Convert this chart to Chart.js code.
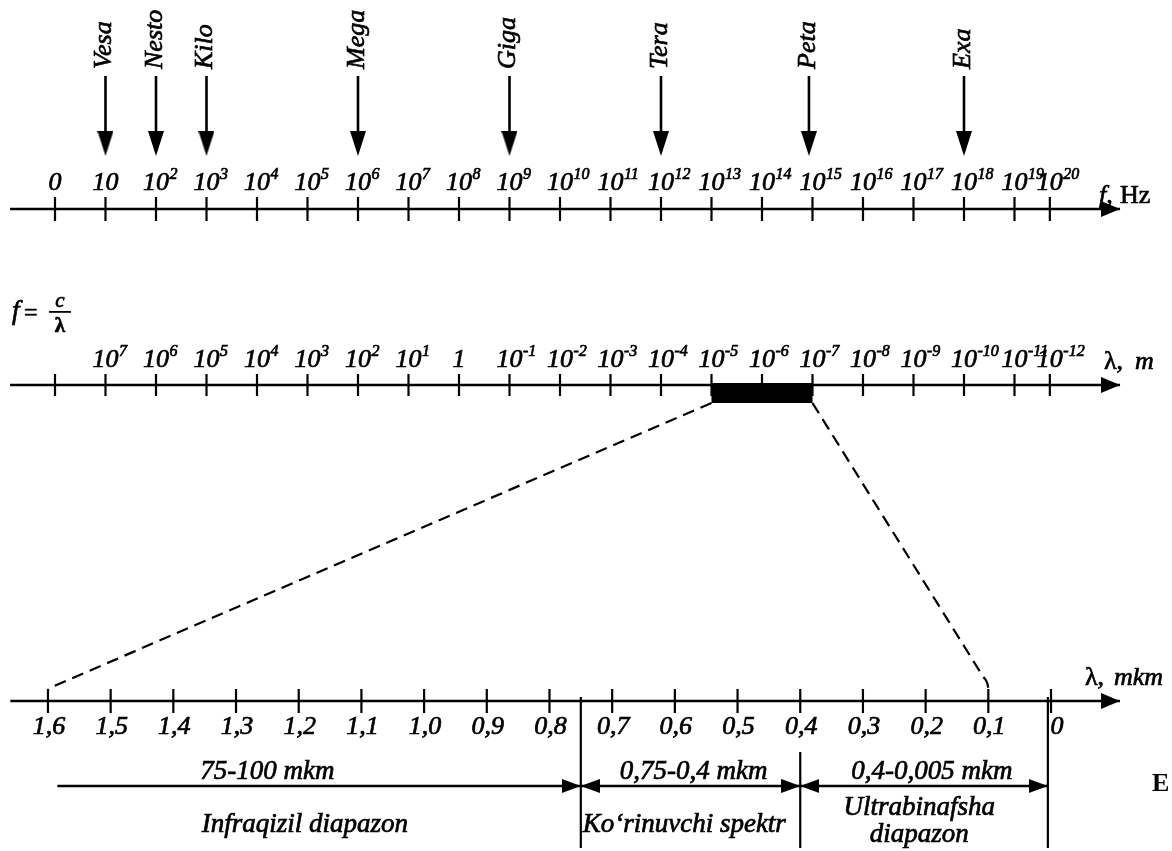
<!DOCTYPE html>
<html>
<head>
<meta charset="utf-8">
<script src="https://cdn.jsdelivr.net/npm/chart.js@4.4.1/dist/chart.umd.min.js"></script>
<style>
  html, body { margin: 0; padding: 0; background: #fff; }
  #wrap { width: 1172px; height: 851px; }
</style>
</head>
<body>
<div id="wrap"><canvas id="myChart" width="1172" height="851"></canvas></div>
<script>
// Frequency scale (top), one tick per decade
var freqLabels = ['0', '10', '10^2', '10^3', '10^4', '10^5', '10^6', '10^7', '10^8', '10^9', '10^10',
  '10^11', '10^12', '10^13', '10^14', '10^15', '10^16', '10^17', '10^18', '10^19', '10^20'];
// Wavelength scale (middle), same tick places
var waveLabels = ['', '10^7', '10^6', '10^5', '10^4', '10^3', '10^2', '10^1', '1', '10^-1', '10^-2',
  '10^-3', '10^-4', '10^-5', '10^-6', '10^-7', '10^-8', '10^-9', '10^-10', '10^-11', '10^-12'];
var decadePos = [0, 1, 2, 3, 4, 5, 6, 7, 8, 9, 10, 11, 12, 13, 14, 15, 16, 17, 18, 19, 19.7];

// SI prefixes and the decade they point to
var prefixNames = ['Vesa', 'Nesto', 'Kilo', 'Mega', 'Giga', 'Tera', 'Peta', 'Exa'];
var prefixPos = [1, 2, 3, 6, 9, 12, 14.93, 18];

// Optical band marked on the wavelength scale (10^-5 .. 10^-7 m)
var bandFrom = 13, bandTo = 15;

// Zoomed scale in mkm (bottom)
var mkmTicks = [1.6, 1.5, 1.4, 1.3, 1.2, 1.1, 1.0, 0.9, 0.8, 0.7, 0.6, 0.5, 0.4, 0.3, 0.2, 0.1, 0];
var mkmLabels = ['1,6', '1,5', '1,4', '1,3', '1,2', '1,1', '1,0', '0,9', '0,8', '0,7', '0,6', '0,5',
  '0,4', '0,3', '0,2', '0,1', '0'];
var connectTo = [1.6, 0.1];

// Ranges under the mkm scale
var rangeStart = [1.585, 0.75, 0.4];
var rangeEnd = [0.75, 0.4, 0.005];
var rangeBothHeads = [false, true, true];
var rangeText = ['75-100 mkm', '0,75-0,4 mkm', '0,4-0,005 mkm'];
var rangeNames = [['Infraqizil diapazon'], ['Ko\u2018rinuvchi spektr'], ['Ultrabinafsha', 'diapazon']];
var rangeTextAt = [1.25, 0.57, 0.19];
var rangeNameAt = [1.19, 0.585, 0.21];

// rows of the drawing (y scale runs top-down in pixels)
var Y_PREFIX_TEXT = 69, Y_SHAFT_TOP = 76, Y_HEAD_TIP = 156;
var Y_FREQ_LABEL = 183, Y_FREQ_AXIS = 209;
var Y_WAVE_LABEL = 360, Y_WAVE_AXIS = 385, Y_BAND = 393, Y_BAND_BOTTOM = 403;
var Y_MKM_AXIS = 701, Y_MKM_LABEL = 727, Y_RANGE_TEXT = 772, Y_RANGE_ARROW = 786, Y_RANGE_NAME = 825;
var Y_BOTTOM = 848;

var FONT = '"Liberation Serif", "Times New Roman", serif';
var black = '#000';

// arrowhead picture, tip in the middle so that a point sits on the tip
function makeHead(len, wid) {
  var c = document.createElement('canvas');
  c.width = len * 2;
  c.height = wid;
  var g = c.getContext('2d');
  g.fillStyle = black;
  g.beginPath();
  g.moveTo(0, 0);
  g.lineTo(len, wid / 2);
  g.lineTo(0, wid);
  g.closePath();
  g.fill();
  return c;
}
var axisHead = makeHead(19, 16);
var prefixHead = makeHead(25, 16);
var rangeHead = makeHead(19, 14);

function pts(xs, y) {
  return xs.map(function(v) { return {x: v, y: y}; });
}
function vsegs(xs, y0, y1) {
  var out = [];
  xs.forEach(function(v) {
    out.push({x: v, y: y0}, {x: v, y: y1}, {x: v, y: null});
  });
  return out;
}

var datasets = [];
function addLine(axisId, data, width, extra) {
  var d = {
    xAxisID: axisId, yAxisID: 'y', data: data,
    borderColor: black, backgroundColor: black,
    borderWidth: width, pointRadius: 0, spanGaps: false, tension: 0
  };
  for (var k in extra) d[k] = extra[k];
  datasets.push(d);
}
function addTicks(axisId, xs, y, r) {
  datasets.push({
    xAxisID: axisId, yAxisID: 'y', data: pts(xs, y), showLine: false,
    pointStyle: 'line', pointRotation: 90, pointRadius: r,
    pointBorderWidth: 2.2, pointBorderColor: black
  });
}

// top: frequency axis
addLine('x', [{x: -0.89, y: Y_FREQ_AXIS}, {x: 21.09, y: Y_FREQ_AXIS}], 2.6,
  {pointStyle: axisHead, pointRadius: [0, 9]});
addTicks('x', decadePos, Y_FREQ_AXIS, 12);
addLine('x', vsegs(prefixPos, Y_SHAFT_TOP, Y_HEAD_TIP - 12), 2.6);
addLine('x', pts(prefixPos, Y_HEAD_TIP), 0,
  {showLine: false, pointStyle: prefixHead, pointRotation: 90, pointRadius: 9});

// middle: wavelength axis
addLine('x', [{x: -0.89, y: Y_WAVE_AXIS}, {x: 21.09, y: Y_WAVE_AXIS}], 2.6,
  {pointStyle: axisHead, pointRadius: [0, 9]});
addTicks('x', decadePos, Y_WAVE_AXIS, 11);
addLine('x', [{x: bandFrom, y: Y_BAND}, {x: bandTo, y: Y_BAND}], 20, {borderCapStyle: 'butt'});

// bottom: mkm axis
addLine('xw', [{x: 1.66, y: Y_MKM_AXIS}, {x: -0.11, y: Y_MKM_AXIS}], 2.6,
  {pointStyle: axisHead, pointRadius: [0, 9]});
addTicks('xw', mkmTicks, Y_MKM_AXIS, 12);
addLine('xw', vsegs([rangeEnd[0], rangeEnd[2]], Y_MKM_AXIS - 4, Y_BOTTOM)
  .concat(vsegs([rangeEnd[1]], 752, Y_BOTTOM)), 2.2);
for (var i = 0; i < rangeStart.length; i++) {
  addLine('xw', [{x: rangeStart[i], y: Y_RANGE_ARROW}, {x: rangeEnd[i], y: Y_RANGE_ARROW}], 2.6, {
    pointStyle: rangeHead,
    pointRotation: [180, 0],
    pointRadius: [rangeBothHeads[i] ? 9 : 0, 9]
  });
}

// scanned print is heavy, so text is filled and lightly stroked
function ink(ctx, s, px, py) {
  ctx.fillText(s, px, py);
  ctx.strokeText(s, px, py);
}

function drawPow(ctx, label, cx, cy) {
  if (!label) return;
  var parts = label.split('^');
  ctx.font = 'italic 26px ' + FONT;
  var bw = ctx.measureText(parts[0]).width;
  var x0 = cx - bw / 2;
  ctx.textAlign = 'left';
  ctx.textBaseline = 'middle';
  ink(ctx, parts[0], x0, cy);
  if (parts[1]) {
    ctx.font = 'italic 16px ' + FONT;
    ink(ctx, parts[1], x0 + bw + 0.5, cy - 8);
  }
}

var extras = {
  id: 'extras',
  beforeDraw: function(chart) {
    var ctx = chart.ctx;
    ctx.save();
    ctx.fillStyle = '#fff';
    ctx.fillRect(0, 0, chart.width, chart.height);
    ctx.restore();
  },
  beforeDatasetsDraw: function(chart) {
    // dashed zoom lines from the optical band down to the mkm scale
    var ctx = chart.ctx, x = chart.scales.x, xw = chart.scales.xw;
    var lx = xw.getPixelForValue(connectTo[0]), rx = xw.getPixelForValue(connectTo[1]);
    ctx.save();
    ctx.strokeStyle = black;
    ctx.lineWidth = 2.2;
    ctx.setLineDash([12, 7]);
    ctx.beginPath();
    ctx.moveTo(x.getPixelForValue(bandFrom), Y_BAND_BOTTOM);
    ctx.lineTo(lx + 6, Y_MKM_AXIS - 15);
    ctx.lineTo(lx, Y_MKM_AXIS - 11);
    ctx.stroke();
    ctx.beginPath();
    ctx.moveTo(x.getPixelForValue(bandTo), Y_BAND_BOTTOM);
    ctx.lineTo(rx - 5, Y_MKM_AXIS - 24);
    ctx.quadraticCurveTo(rx, Y_MKM_AXIS - 19, rx, Y_MKM_AXIS - 11);
    ctx.stroke();
    ctx.restore();
  },
  afterDatasetsDraw: function(chart) {
    var ctx = chart.ctx, x = chart.scales.x, xw = chart.scales.xw;
    var i, j;
    ctx.save();
    ctx.fillStyle = black;
    ctx.strokeStyle = black;
    ctx.lineWidth = 0.7;

    // prefix names, reading upwards
    ctx.font = 'italic 26px ' + FONT;
    for (i = 0; i < prefixNames.length; i++) {
      ctx.save();
      ctx.translate(x.getPixelForValue(prefixPos[i]) + 6, Y_PREFIX_TEXT);
      ctx.rotate(-Math.PI / 2);
      ctx.textAlign = 'left';
      ctx.textBaseline = 'alphabetic';
      ink(ctx, prefixNames[i], 0, 0);
      ctx.restore();
    }

    for (i = 0; i < freqLabels.length; i++) {
      drawPow(ctx, freqLabels[i], x.getPixelForValue(decadePos[i]), Y_FREQ_LABEL);
    }
    for (i = 0; i < waveLabels.length; i++) {
      drawPow(ctx, waveLabels[i], x.getPixelForValue(decadePos[i]), Y_WAVE_LABEL);
    }

    // axis names
    ctx.textAlign = 'left';
    ctx.textBaseline = 'middle';
    ctx.font = 'italic 26px ' + FONT;
    ink(ctx, 'f,', 1099, Y_FREQ_AXIS - 13);
    ctx.font = '26px ' + FONT;
    ink(ctx, 'Hz', 1120, Y_FREQ_AXIS - 13);
    ink(ctx, '\u03bb,', 1104, Y_WAVE_LABEL + 2);
    ctx.font = 'italic 26px ' + FONT;
    ink(ctx, 'm', 1135, Y_WAVE_LABEL + 2);
    ctx.font = '26px ' + FONT;
    ink(ctx, '\u03bb,', 1085, Y_MKM_AXIS - 23);
    ctx.font = 'italic 26px ' + FONT;
    ink(ctx, 'mkm', 1114, Y_MKM_AXIS - 23);

    // f = c / lambda
    ctx.textBaseline = 'alphabetic';
    ctx.font = 'italic 27px ' + FONT;
    ink(ctx, 'f', 12, 319);
    ctx.font = '24px ' + FONT;
    ink(ctx, '=', 24, 320);
    ctx.textAlign = 'center';
    ctx.font = 'italic 21px ' + FONT;
    ink(ctx, 'c', 60, 307);
    ctx.font = 'bold 21px ' + FONT;
    ink(ctx, '\u03bb', 60, 332);
    ctx.fillRect(49, 311, 22, 1.8);

    // mkm labels
    ctx.font = 'italic 26px ' + FONT;
    ctx.textAlign = 'center';
    ctx.textBaseline = 'middle';
    for (i = 0; i < mkmTicks.length; i++) {
      var shift = mkmTicks[i] === 0 ? 6 : 1;
      ink(ctx, mkmLabels[i], xw.getPixelForValue(mkmTicks[i]) + shift, Y_MKM_LABEL);
    }

    // ranges
    for (i = 0; i < rangeText.length; i++) {
      ctx.font = 'italic 27px ' + FONT;
      ink(ctx, rangeText[i], xw.getPixelForValue(rangeTextAt[i]), Y_RANGE_TEXT);
      var lines = rangeNames[i];
      for (j = 0; j < lines.length; j++) {
        var yy = lines.length === 1 ? Y_RANGE_NAME : 808 + j * 27;
        ink(ctx, lines[j], xw.getPixelForValue(rangeNameAt[i]), yy);
      }
    }

    ctx.font = 'bold 26px ' + FONT;
    ctx.textAlign = 'left';
    ctx.fillText('E', 1152, Y_RANGE_ARROW - 2);
    ctx.restore();
  }
};

var ctx = document.getElementById('myChart').getContext('2d');
var myChart = new Chart(ctx, {
  type: 'line',
  data: {datasets: datasets},
  plugins: [extras],
  options: {
    responsive: false,
    animation: false,
    events: [],
    layout: {autoPadding: false, padding: 0},
    plugins: {legend: {display: false}, tooltip: {enabled: false}},
    scales: {
      x: {type: 'linear', axis: 'x', bounds: 'data', min: -1.0891, max: 22.119, display: false},
      xw: {type: 'linear', axis: 'x', bounds: 'data', min: -0.193, max: 1.6765, reverse: true, display: false},
      y: {type: 'linear', bounds: 'data', min: 0, max: 851, reverse: true, display: false}
    }
  }
});
</script>
</body>
</html>
